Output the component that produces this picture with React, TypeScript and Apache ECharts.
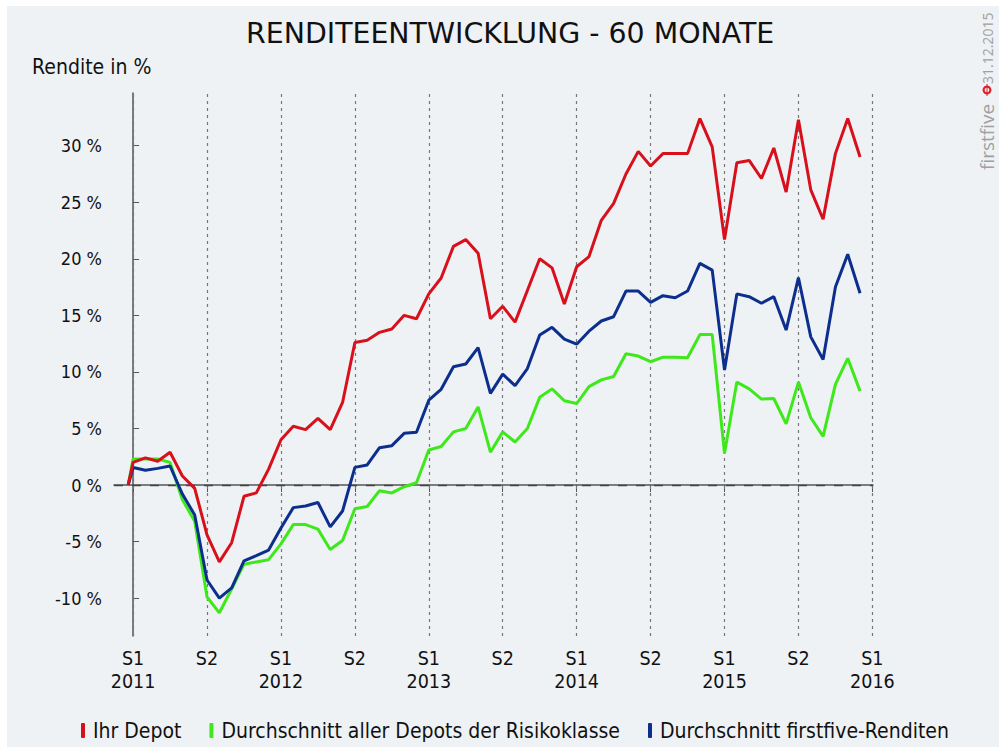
import React, { useEffect, useRef } from "react";
import * as echarts from "echarts";

const months = [-0.4, 0, 1, 2, 3, 4, 5, 6, 7, 8, 9, 10, 11, 12, 13, 14, 15, 16, 17, 18, 19, 20, 21, 22, 23, 24, 25, 26, 27, 28, 29, 30, 31, 32, 33, 34, 35, 36, 37, 38, 39, 40, 41, 42, 43, 44, 45, 46, 47, 48, 49, 50, 51, 52, 53, 54, 55, 56, 57, 58, 59];

const ihrDepot = [0, 2.0, 2.4, 2.1, 2.9, 0.8, -0.3, -4.4, -6.8, -5.1, -1.0, -0.7, 1.4, 4.0, 5.2, 4.9, 5.9, 4.9, 7.3,
  12.6, 12.8, 13.5, 13.8, 15.0, 14.7, 16.9, 18.3, 21.1, 21.7, 20.5, 14.7, 15.8, 14.4, 17.2, 20.0, 19.2, 16.0,
  19.3, 20.2, 23.4, 24.9, 27.5, 29.5, 28.2, 29.3, 29.3, 29.3, 32.4, 29.9, 21.7, 28.5, 28.7, 27.1, 29.8, 25.9,
  32.3, 26.1, 23.5, 29.3, 32.4, 29.0];

const risikoklasse = [0, 2.3, 2.3, 2.3, 2.0, -1.3, -3.2, -9.9, -11.3, -9.2, -7.0, -6.8, -6.6, -5.2, -3.5, -3.5, -3.9, -5.7, -4.9,
  -2.1, -1.9, -0.5, -0.7, -0.15, 0.2, 3.1, 3.4, 4.7, 5.0, 6.9, 2.9, 4.7, 3.8, 5.0, 7.75, 8.5, 7.45,
  7.2, 8.7, 9.3, 9.6, 11.6, 11.4, 10.9, 11.3, 11.3, 11.25, 13.3, 13.3, 2.8, 9.1, 8.5, 7.6, 7.65, 5.4,
  9.1, 5.95, 4.3, 8.9, 11.2, 8.3];

const firstfive = [0, 1.55, 1.3, 1.47, 1.68, -0.8, -2.65, -8.4, -10.0, -9.1, -6.7, -6.25, -5.75, -3.8, -2.0, -1.85, -1.55, -3.7, -2.3,
  1.56, 1.77, 3.3, 3.48, 4.57, 4.66, 7.5, 8.46, 10.46, 10.7, 12.14, 8.1, 9.8, 8.78, 10.3, 13.26, 13.94, 12.9,
  12.45, 13.6, 14.5, 14.88, 17.15, 17.15, 16.15, 16.74, 16.56, 17.15, 19.6, 19.0, 10.17, 16.9, 16.65, 16.07, 16.65, 13.7,
  18.33, 13.1, 11.1, 17.5, 20.4, 16.95];

const yTicks = [-10, -5, 0, 5, 10, 15, 20, 25, 30];
const xTicks = [0, 6, 12, 18, 24, 30, 36, 42, 48, 54, 60];
const startYear = 2011;

const seriesNames = ["Ihr Depot", "Durchschnitt aller Depots der Risikoklasse", "Durchschnitt firstfive-Renditen"];
const seriesColors = ["#d8101c", "#3ee81a", "#0c2f8e"];

const FONT = "'DejaVu Sans Condensed', 'DejaVu Sans', sans-serif";

export default function App() {
  const ref = useRef<HTMLDivElement>(null);
  useEffect(() => {
    if (!ref.current) return;
    const chart = echarts.init(ref.current, undefined, { renderer: "svg" });
    const zip = (vals: number[]) => months.map((m, i) => [m, vals[i]]);
    const lineSeries = [ihrDepot, risikoklasse, firstfive].map((vals, k) => ({
      name: seriesNames[k],
      type: "line",
      data: zip(vals),
      showSymbol: false,
      symbol: "none",
      lineStyle: { color: seriesColors[k], width: 3 },
      itemStyle: { color: seriesColors[k] },
      z: 5 + (k === 0 ? 2 : k === 2 ? 1 : 0),
    }));
    const option: any = {
      animation: false,
      backgroundColor: "#eef2f5",
      textStyle: { fontFamily: FONT },
      title: {
        text: "RENDITEENTWICKLUNG - 60 MONATE",
        left: 234,
        top: 8,
        textStyle: { fontFamily: "'DejaVu Sans', sans-serif", fontSize: 28.4, fontWeight: "normal", color: "#111" },
      },
      legend: {
        bottom: 1,
        left: 69,
        icon: "roundRect",
        itemWidth: 4,
        itemHeight: 15,
        itemGap: 28,
        data: seriesNames,
        textStyle: { fontFamily: FONT, fontSize: 21, color: "#111", padding: [0, 0, 0, 3] },
      },
      grid: { left: 107, right: 126, top: 87, bottom: 111, containLabel: false },
      xAxis: {
        type: "value",
        min: -1.55,
        max: 60.05,
        axisLine: { show: true, lineStyle: { color: "#555", width: 1.5 } },
        axisTick: { show: true, customValues: xTicks, length: 7, lineStyle: { color: "#555" } },
        axisLabel: {
          customValues: xTicks,
          fontFamily: FONT,
          fontSize: 19.5,
          color: "#111",
          lineHeight: 23,
          margin: 11,
          formatter: (v: number) => {
            const idx = Math.round(v / 6);
            if (idx % 2 === 0) return "S1\n" + (startYear + idx / 2);
            return "S2";
          },
        },
        splitLine: { show: false },
      },
      yAxis: {
        type: "value",
        min: -13.35,
        max: 34.66,
        name: "Rendite in %",
        nameLocation: "end",
        nameGap: 16,
        nameTextStyle: { fontFamily: FONT, fontSize: 21, color: "#111", align: "left", padding: [0, 0, 0, -101] },
        axisLine: { show: true, lineStyle: { color: "#555", width: 1.5 } },
        axisTick: { show: true, inside: true, customValues: yTicks, length: 6, lineStyle: { color: "#555" } },
        axisLabel: {
          customValues: yTicks,
          fontFamily: FONT,
          fontSize: 18,
          color: "#111",
          margin: 12,
          formatter: (v: number) => v + " %",
        },
        splitLine: { show: false },
      },
      series: [
        {
          type: "line",
          data: [],
          silent: true,
          markLine: {
            silent: true,
            symbol: "none",
            label: { show: false },
            lineStyle: { color: "#777", type: [3, 4], width: 1.2 },
            data: xTicks.map((x) => ({ xAxis: x })),
          },
        },
        {
          type: "line",
          data: [],
          silent: true,
          markLine: {
            silent: true,
            symbol: "none",
            label: { show: false },
            lineStyle: { color: "#444", type: [9, 9], width: 1.3 },
            data: [{ yAxis: 0 }],
          },
        },
        ...lineSeries,
      ],
      graphic: [
        {
          type: "group",
          x: 980,
          y: 164,
          rotation: Math.PI / 2,
          children: [
            {
              type: "text",
              x: 0,
              y: 0,
              style: { text: "firstfive", fontFamily: "'Open Sans', sans-serif", fontSize: 19, fill: "#a0a0a0", verticalAlign: "middle", align: "left" },
            },
            { type: "circle", shape: { cx: 80, cy: 0, r: 3.4 }, style: { fill: "none", stroke: "#e0202a", lineWidth: 2.2 } },
            { type: "line", shape: { x1: 74, y1: 0, x2: 86, y2: 0 }, style: { stroke: "#e0202a", lineWidth: 1 } },
            {
              type: "text",
              x: 86,
              y: 0,
              style: { text: "31.12.2015", fontFamily: "'Open Sans', sans-serif", fontSize: 14, fill: "#a0a0a0", verticalAlign: "middle", align: "left" },
            },
          ],
        },
      ],
    };
    chart.setOption(option);
    return () => chart.dispose();
  }, []);
  return (
    <div
      ref={ref}
      style={{ position: "absolute", left: 7, top: 6, width: 992, height: 741 }}
    />
  );
}
